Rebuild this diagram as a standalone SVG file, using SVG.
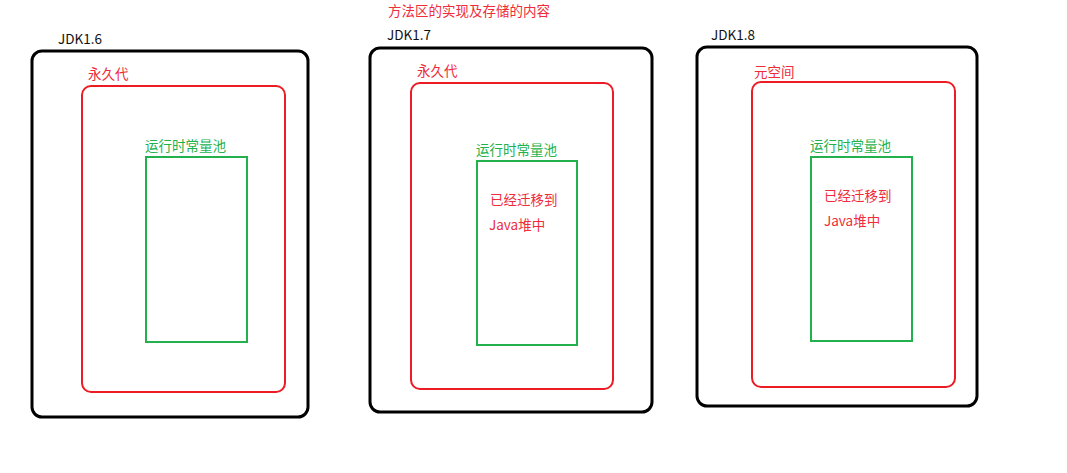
<svg xmlns="http://www.w3.org/2000/svg" width="1067" height="473" viewBox="0 0 1067 473">
  <style>
    .outer { fill: none; stroke: #000; stroke-width: 3; }
    .area { fill: none; stroke: #ed1c24; stroke-width: 2; }
    .pool { fill: none; stroke: #22b14c; stroke-width: 2; }
    text { font-family: "Microsoft YaHei", "Noto Sans CJK SC", "Noto Sans", sans-serif; font-size: 13.5px; }
    .t-black { fill: #111; }
    .t-red { fill: #ee2c3a; }
    .t-green { fill: #22b14c; }
  </style>
  <rect width="1067" height="473" fill="#fff"/>

  <text id="title" class="t-red" x="388" y="16">方法区的实现及存储的内容</text>

  <!-- JDK 1.6: permanent generation holds the runtime constant pool -->
  <g id="jdk16">
    <rect class="outer" x="32" y="51" width="276" height="366" rx="10"/>
    <text class="t-black" x="58" y="44">JDK1.6</text>
    <g id="jdk16-permgen">
      <rect class="area" x="82" y="86" width="203" height="306" rx="9"/>
      <text class="t-red" x="88" y="79">永久代</text>
    </g>
    <g id="jdk16-pool">
      <rect class="pool" x="146" y="157" width="101" height="185"/>
      <text class="t-green" x="145" y="151">运行时常量池</text>
    </g>
  </g>

  <!-- JDK 1.7: constant pool moved to the heap -->
  <g id="jdk17">
    <rect class="outer" x="370" y="48" width="282" height="364" rx="10"/>
    <text class="t-black" x="387" y="40">JDK1.7</text>
    <g id="jdk17-permgen">
      <rect class="area" x="411" y="83" width="202" height="306" rx="9"/>
      <text class="t-red" x="417" y="76">永久代</text>
    </g>
    <g id="jdk17-pool">
      <rect class="pool" x="477" y="161" width="100" height="184"/>
      <text class="t-green" x="476" y="155">运行时常量池</text>
      <text class="t-red" x="490" y="205">已经迁移到</text>
      <text class="t-red" x="489" y="230">Java堆中</text>
    </g>
  </g>

  <!-- JDK 1.8: metaspace replaces the permanent generation -->
  <g id="jdk18">
    <rect class="outer" x="697" y="47" width="280" height="359" rx="10"/>
    <text class="t-black" x="711" y="40">JDK1.8</text>
    <g id="jdk18-metaspace">
      <rect class="area" x="752" y="82" width="203" height="305" rx="9"/>
      <text class="t-red" x="754" y="77">元空间</text>
    </g>
    <g id="jdk18-pool">
      <rect class="pool" x="811" y="157" width="101" height="184"/>
      <text class="t-green" x="810" y="151">运行时常量池</text>
      <text class="t-red" x="824" y="201">已经迁移到</text>
      <text class="t-red" x="824" y="226">Java堆中</text>
    </g>
  </g>

  <g id="connectors"/>
</svg>
